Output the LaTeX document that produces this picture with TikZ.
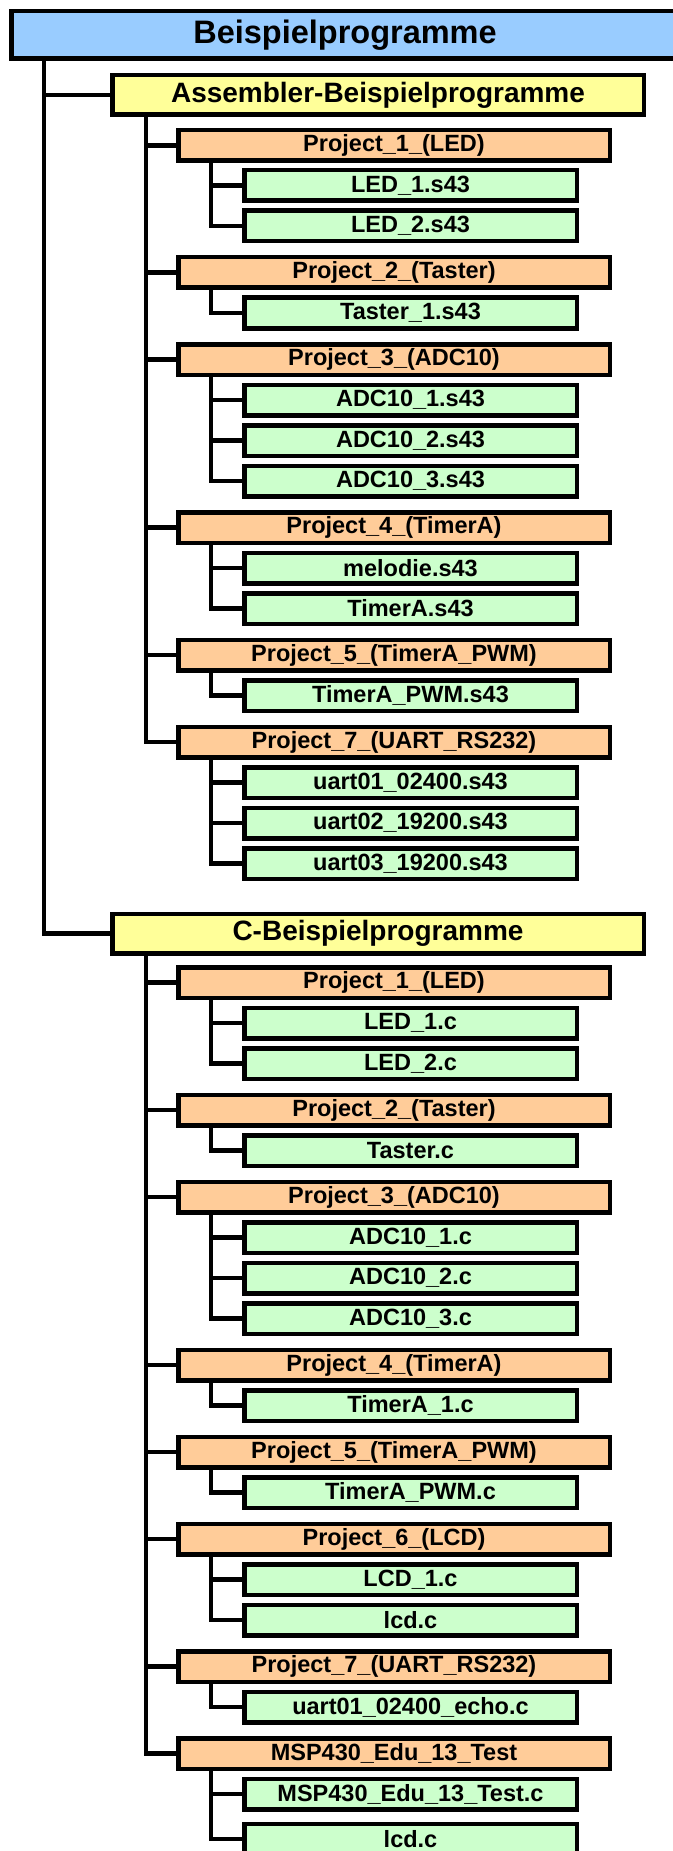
\documentclass[tikz,border=0pt]{standalone}
\usepackage{fontspec}
\setmainfont{Liberation Sans}
\definecolor{rootblue}{HTML}{99CCFF}
\definecolor{groupyellow}{HTML}{FFFF99}
\definecolor{projorange}{HTML}{FFCC99}
\definecolor{filegreen}{HTML}{CCFFCC}
\tikzset{
  box/.style={draw=black, line width=4.5pt, rectangle, inner sep=0pt, text=black},
  rootbox/.style={box, fill=rootblue, minimum width=667.5pt, minimum height=47.5pt,
    font=\bfseries\fontsize{32.5}{38}\selectfont},
  groupbox/.style={box, fill=groupyellow, minimum width=531.5pt, minimum height=39.5pt,
    font=\bfseries\fontsize{28}{33}\selectfont},
  projbox/.style={box, fill=projorange, minimum width=431.5pt, minimum height=30.5pt,
    font=\bfseries\fontsize{23.5}{28}\selectfont},
  filebox/.style={box, fill=filegreen, minimum width=332.5pt, minimum height=30.5pt,
    font=\bfseries\fontsize{23.5}{28}\selectfont},
  link/.style={draw=black, line width=4.5pt}
}
\begin{document}
\begin{tikzpicture}[x=1pt, y=-1pt]
\useasboundingbox (0,0) rectangle (672,1851);

% trunk columns
\coordinate (tR) at (44,0);
\coordinate (tG) at (146,0);
\coordinate (tP) at (211,0);

% ---- boxes ----
\node[rootbox] (root) at (345,35) {Beispielprogramme};

\node[groupbox] (asm) at (378,95) {Assembler-Beispielprogramme};

\node[projbox] (a1) at (394,145.5) {Project\_1\_(LED)};
\node[filebox] (a1f1) at (410.5,185.5) {LED\_1.s43};
\node[filebox] (a1f2) at (410.5,226) {LED\_2.s43};

\node[projbox] (a2) at (394,272.5) {Project\_2\_(Taster)};
\node[filebox] (a2f1) at (410.5,313) {Taster\_1.s43};

\node[projbox] (a3) at (394,359.5) {Project\_3\_(ADC10)};
\node[filebox] (a3f1) at (410.5,400) {ADC10\_1.s43};
\node[filebox] (a3f2) at (410.5,440.5) {ADC10\_2.s43};
\node[filebox] (a3f3) at (410.5,481) {ADC10\_3.s43};

\node[projbox] (a4) at (394,527.5) {Project\_4\_(TimerA)};
\node[filebox] (a4f1) at (410.5,568) {melodie.s43};
\node[filebox] (a4f2) at (410.5,608.5) {TimerA.s43};

\node[projbox] (a5) at (394,655) {Project\_5\_(TimerA\_PWM)};
\node[filebox] (a5f1) at (410.5,695.5) {TimerA\_PWM.s43};

\node[projbox] (a7) at (394,742) {Project\_7\_(UART\_RS232)};
\node[filebox] (a7f1) at (410.5,782.5) {uart01\_02400.s43};
\node[filebox] (a7f2) at (410.5,823) {uart02\_19200.s43};
\node[filebox] (a7f3) at (410.5,863.5) {uart03\_19200.s43};

\node[groupbox] (cg) at (378,933.5) {C-Beispielprogramme};

\node[projbox] (c1) at (394,982.5) {Project\_1\_(LED)};
\node[filebox] (c1f1) at (410.5,1023) {LED\_1.c};
\node[filebox] (c1f2) at (410.5,1063.5) {LED\_2.c};

\node[projbox] (c2) at (394,1110) {Project\_2\_(Taster)};
\node[filebox] (c2f1) at (410.5,1150.5) {Taster.c};

\node[projbox] (c3) at (394,1197) {Project\_3\_(ADC10)};
\node[filebox] (c3f1) at (410.5,1237.5) {ADC10\_1.c};
\node[filebox] (c3f2) at (410.5,1278) {ADC10\_2.c};
\node[filebox] (c3f3) at (410.5,1318.5) {ADC10\_3.c};

\node[projbox] (c4) at (394,1365) {Project\_4\_(TimerA)};
\node[filebox] (c4f1) at (410.5,1405.5) {TimerA\_1.c};

\node[projbox] (c5) at (394,1452) {Project\_5\_(TimerA\_PWM)};
\node[filebox] (c5f1) at (410.5,1492.5) {TimerA\_PWM.c};

\node[projbox] (c6) at (394,1539) {Project\_6\_(LCD)};
\node[filebox] (c6f1) at (410.5,1579.5) {LCD\_1.c};
\node[filebox] (c6f2) at (410.5,1620) {lcd.c};

\node[projbox] (c7) at (394,1666.5) {Project\_7\_(UART\_RS232)};
\node[filebox] (c7f1) at (410.5,1707) {uart01\_02400\_echo.c};

\node[projbox] (c8) at (394,1753.5) {MSP430\_Edu\_13\_Test};
\node[filebox] (c8f1) at (410.5,1794) {MSP430\_Edu\_13\_Test.c};
\node[filebox] (c8f2) at (410.5,1839) {lcd.c};

% ---- tree connectors ----
\foreach \g in {asm,cg}
  \draw[link] (root.south -| tR) |- (\g.west);

\foreach \p in {a1,a2,a3,a4,a5,a7}
  \draw[link] (asm.south -| tG) |- (\p.west);
\foreach \p in {c1,c2,c3,c4,c5,c6,c7,c8}
  \draw[link] (cg.south -| tG) |- (\p.west);

\foreach \p/\f in {a1/a1f1,a1/a1f2,a2/a2f1,a3/a3f1,a3/a3f2,a3/a3f3,
                   a4/a4f1,a4/a4f2,a5/a5f1,a7/a7f1,a7/a7f2,a7/a7f3,
                   c1/c1f1,c1/c1f2,c2/c2f1,c3/c3f1,c3/c3f2,c3/c3f3,
                   c4/c4f1,c5/c5f1,c6/c6f1,c6/c6f2,c7/c7f1,c8/c8f1,c8/c8f2}
  \draw[link] (\p.south -| tP) |- (\f.west);
\end{tikzpicture}
\end{document}
